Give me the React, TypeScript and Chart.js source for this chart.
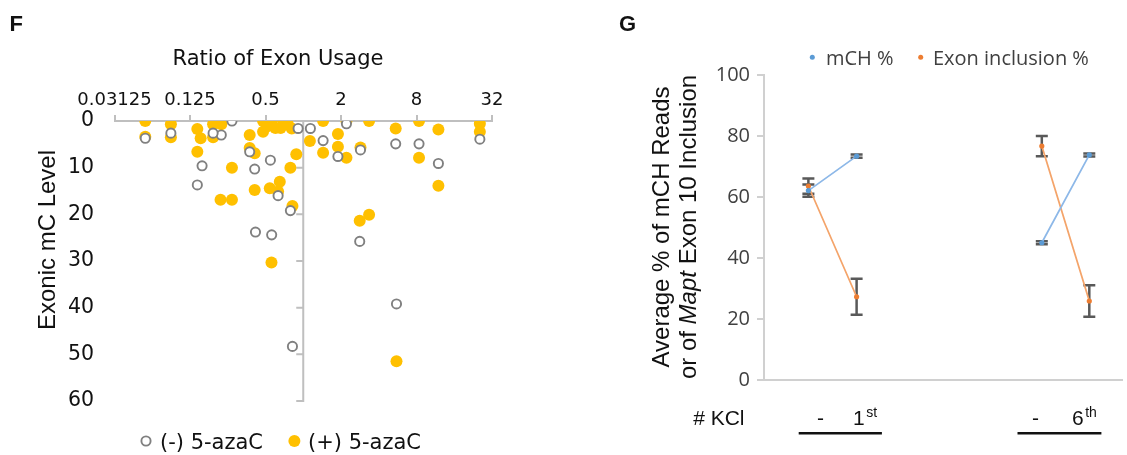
import React, { useEffect, useRef } from "react";
import { Chart, registerables } from "chart.js";

Chart.register(...registerables);

// ---------- Panel F data ----------
const ratioMinus = [0.055, 0.088, 0.27, 0.222, 0.191, 0.156, 0.143, 0.41, 0.547, 0.374, 0.63, 0.91, 1.14, 1.44, 2.21, 1.89, 2.86, 5.46, 8.38, 11.96, 25.6, 0.79, 0.416, 0.56, 0.82, 2.82, 5.54];
const mcMinus = [3.7, 2.6, 0, 3.0, 2.6, 9.6, 13.7, 10.3, 8.4, 6.6, 16.0, 1.6, 1.6, 4.2, 0.6, 7.6, 6.2, 4.9, 4.9, 9.1, 3.9, 19.2, 23.8, 24.4, 48.3, 25.8, 39.2];
const ratioPlus = [0.055, 0.055, 0.088, 0.088, 0.143, 0.152, 0.143, 0.191, 0.222, 0.191, 0.27, 0.374, 0.374, 0.41, 0.41, 0.478, 0.478, 0.558, 0.69, 0.52, 0.6, 0.66, 0.75, 0.541, 0.65, 0.63, 0.79, 0.88, 0.81, 1.44, 2.21, 3.35, 5.46, 8.38, 11.96, 25.6, 25.6, 1.13, 1.44, 1.89, 1.89, 2.21, 2.86, 8.38, 11.96, 0.219, 0.27, 0.82, 0.558, 3.35, 2.82, 5.54];
const mcPlus = [0, 3.4, 0.7, 3.5, 1.7, 3.7, 6.6, 0.7, 0.7, 3.5, 10.0, 3.0, 5.8, 6.9, 14.8, 0, 2.3, 0, 0, 1.1, 1.5, 1.5, 0.6, 14.4, 13.0, 15.1, 10.0, 7.1, 1.6, 0, 0, 0, 1.6, 0, 1.8, 0.6, 2.3, 4.3, 6.8, 2.8, 5.5, 7.9, 5.7, 7.9, 13.9, 16.9, 16.9, 18.2, 30.3, 20.1, 21.4, 51.5];
const ratioTicks = [0.03125, 0.125, 0.5, 2, 8, 32];
const ratioTickLabels = ["0.03125", "0.125", "0.5", "2", "8", "32"];
const mcTicks = [0, 10, 20, 30, 40, 50, 60];

// ---------- Panel G data ----------
const kclLabels = ["-", "1st", "-", "6th"];
const kclPositions = [1.86, 3.88, 11.64, 13.63];
const kclGroup = [0, 0, 1, 1];
const mchPercent = [62.1, 73.4, 45.0, 73.8];
const mchError = [2.0, 0.5, 0.5, 0.5];
const exonPercent = [63.6, 27.3, 76.7, 25.9];
const exonError = [2.5, 5.9, 3.3, 5.2];
const percentTicks = [0, 20, 40, 60, 80, 100];

const DEJAVU = "'DejaVu Sans', sans-serif";
const ARIAL = "'Liberation Sans', Arial, sans-serif";
const OPEN = "'Open Sans', sans-serif";

function PanelF() {
  const ref = useRef<HTMLCanvasElement>(null);
  useEffect(() => {
    const canvas = ref.current;
    if (!canvas) return;

    const crossAxis = {
      id: "crossAxis",
      beforeDatasetsDraw(chart: any) {
        const { ctx } = chart;
        const xs = chart.scales.x;
        const ys = chart.scales.y;
        const x = xs.getPixelForValue(1);
        ctx.save();
        ctx.strokeStyle = "#bfbfbf";
        ctx.lineWidth = 2;
        ctx.beginPath();
        ctx.moveTo(x, ys.top);
        ctx.lineTo(x, ys.bottom + 1);
        mcTicks.slice(1).forEach((t) => {
          const y = ys.getPixelForValue(t);
          ctx.moveTo(x - 7, y);
          ctx.lineTo(x, y);
        });
        ctx.stroke();
        ctx.restore();
      },
    };

    const texts = {
      id: "fTexts",
      afterDraw(chart: any) {
        const { ctx } = chart;
        ctx.save();
        ctx.fillStyle = "#111";
        ctx.font = `bold 22px ${ARIAL}`;
        ctx.textAlign = "left";
        ctx.textBaseline = "alphabetic";
        ctx.fillText("F", 9.5, 30.5);

        ctx.font = `21px ${DEJAVU}`;
        ctx.textAlign = "center";
        ctx.fillText("Ratio of Exon Usage", 278, 64.5);

        ctx.save();
        ctx.translate(55, 240);
        ctx.rotate(-Math.PI / 2);
        ctx.font = `24px ${ARIAL}`;
        ctx.textAlign = "center";
        ctx.fillText("Exonic mC Level", 0, 0);
        ctx.restore();

        // legend
        const ds = chart.data.datasets;
        ctx.font = `21px ${DEJAVU}`;
        ctx.textAlign = "left";
        ctx.beginPath();
        ctx.arc(146, 441, 4.6, 0, Math.PI * 2);
        ctx.fillStyle = "#fff";
        ctx.fill();
        ctx.lineWidth = 1.9;
        ctx.strokeStyle = "#808080";
        ctx.stroke();
        ctx.fillStyle = "#111";
        ctx.fillText(ds[0].label, 160, 449);
        ctx.beginPath();
        ctx.arc(294.4, 441, 6, 0, Math.PI * 2);
        ctx.fillStyle = "#FFC000";
        ctx.fill();
        ctx.fillStyle = "#111";
        ctx.fillText(ds[1].label, 308, 449);
        ctx.restore();
      },
    };

    const chart = new Chart(canvas, {
      type: "scatter",
      data: {
        datasets: [
          {
            label: "(-) 5-azaC",
            data: ratioMinus.map((r, i) => ({ x: r, y: mcMinus[i] })),
            pointRadius: 4.6,
            pointBorderWidth: 1.9,
            pointBorderColor: "#808080",
            pointBackgroundColor: "#ffffff",
            showLine: false,
          },
          {
            label: "(+) 5-azaC",
            data: ratioPlus.map((r, i) => ({ x: r, y: mcPlus[i] })),
            pointRadius: 6,
            pointBorderWidth: 0,
            pointBorderColor: "#FFC000",
            pointBackgroundColor: "#FFC000",
            showLine: false,
          },
        ],
      },
      options: {
        animation: false,
        responsive: false,
        layout: { padding: { left: 0, right: 63, top: 0, bottom: 54 } },
        plugins: { legend: { display: false }, tooltip: { enabled: false } },
        scales: {
          x: {
            type: "logarithmic",
            position: "top",
            min: ratioTicks[0],
            max: ratioTicks[ratioTicks.length - 1],
            afterBuildTicks: (s: any) => {
              s.ticks = ratioTicks.map((v) => ({ value: v }));
            },
            afterFit: (s: any) => {
              s.height = 121;
            },
            ticks: {
              callback: (_v: any, i: number) => ratioTickLabels[i],
              font: { family: DEJAVU, size: 18 },
              color: "#111",
              padding: 4,
              maxRotation: 0,
              autoSkip: false,
            },
            grid: { display: true, drawOnChartArea: false, drawTicks: true, tickLength: 6, color: "#bfbfbf", lineWidth: 2 },
            border: { display: true, color: "#bfbfbf", width: 2 },
          },
          y: {
            type: "linear",
            position: "left",
            reverse: true,
            min: 0,
            max: 60,
            afterBuildTicks: (s: any) => {
              s.ticks = mcTicks.map((v) => ({ value: v }));
            },
            afterFit: (s: any) => {
              s.width = 114.5;
            },
            ticks: { font: { family: DEJAVU, size: 20.5 }, color: "#111", padding: 20.5 },
            grid: { display: false, drawTicks: false },
            border: { display: false },
          },
        },
      } as any,
      plugins: [crossAxis, texts],
    });
    return () => chart.destroy();
  }, []);
  return (
    <canvas
      ref={ref}
      width={555}
      height={455}
      style={{ position: "absolute", left: 0, top: 0, width: 555, height: 455 }}
    />
  );
}

function buildSeries(values: number[]) {
  const pts: { x: number; y: number | null }[] = [];
  values.forEach((v, i) => {
    if (i > 0 && kclGroup[i] !== kclGroup[i - 1]) {
      pts.push({ x: (kclPositions[i - 1] + kclPositions[i]) / 2, y: null });
    }
    pts.push({ x: kclPositions[i], y: v });
  });
  return pts;
}

function PanelG() {
  const ref = useRef<HTMLCanvasElement>(null);
  useEffect(() => {
    const canvas = ref.current;
    if (!canvas) return;
    const OFF = 560;

    const errorBars = {
      id: "errorBars",
      beforeDatasetsDraw(chart: any) {
        const { ctx } = chart;
        const xs = chart.scales.x;
        const ys = chart.scales.y;
        const sets = [
          { vals: mchPercent, errs: mchError },
          { vals: exonPercent, errs: exonError },
        ];
        ctx.save();
        ctx.strokeStyle = "#595959";
        ctx.lineWidth = 2.5;
        sets.forEach(({ vals, errs }) => {
          vals.forEach((v, i) => {
            const px = xs.getPixelForValue(kclPositions[i]);
            const hi = ys.getPixelForValue(v + errs[i]);
            const lo = ys.getPixelForValue(v - errs[i]);
            ctx.beginPath();
            ctx.moveTo(px, hi);
            ctx.lineTo(px, lo);
            ctx.moveTo(px - 6, hi);
            ctx.lineTo(px + 6, hi);
            ctx.moveTo(px - 6, lo);
            ctx.lineTo(px + 6, lo);
            ctx.stroke();
          });
        });
        ctx.restore();
      },
    };

    const texts = {
      id: "gTexts",
      afterDraw(chart: any) {
        const { ctx } = chart;
        const ds = chart.data.datasets;
        ctx.save();
        ctx.fillStyle = "#111";
        ctx.textBaseline = "alphabetic";
        ctx.font = `bold 22px ${ARIAL}`;
        ctx.textAlign = "left";
        ctx.fillText("G", 619 - OFF, 30.5);

        // legend
        ctx.font = `20px ${OPEN}`;
        const items = [
          { x: 812.3, tx: 826, color: "#5B9BD5" },
          { x: 920.7, tx: 933, color: "#ED7D31" },
        ];
        items.forEach((it, i) => {
          ctx.beginPath();
          ctx.arc(it.x - OFF, 57.3, 2.5, 0, Math.PI * 2);
          ctx.fillStyle = it.color;
          ctx.fill();
          ctx.fillStyle = "#404040";
          ctx.fillText(ds[i].label, it.tx - OFF, 65);
        });

        // y-axis title, two rotated lines
        ctx.fillStyle = "#111";
        ctx.font = `24px ${ARIAL}`;
        ctx.save();
        ctx.translate(668.5 - OFF, 227);
        ctx.rotate(-Math.PI / 2);
        ctx.textAlign = "center";
        ctx.fillText("Average % of mCH Reads", 0, 0);
        ctx.restore();

        ctx.save();
        ctx.translate(695.6 - OFF, 227);
        ctx.rotate(-Math.PI / 2);
        ctx.textAlign = "left";
        const segs = [
          { t: "or of ", f: `24px ${ARIAL}` },
          { t: "Mapt", f: `italic 24px ${ARIAL}` },
          { t: " Exon 10 Inclusion", f: `24px ${ARIAL}` },
        ];
        let total = 0;
        segs.forEach((s) => {
          ctx.font = s.f;
          total += ctx.measureText(s.t).width;
        });
        let cx = -total / 2;
        segs.forEach((s) => {
          ctx.font = s.f;
          ctx.fillText(s.t, cx, 0);
          cx += ctx.measureText(s.t).width;
        });
        ctx.restore();

        // KCl row
        ctx.font = `21px ${ARIAL}`;
        ctx.textAlign = "right";
        ctx.fillText("# KCl", 744.5 - OFF, 425);
        ctx.textAlign = "center";
        ctx.fillText(kclLabels[0], 820.4 - OFF, 425);
        ctx.fillText(kclLabels[2], 1035.6 - OFF, 425);

        const drawOrdinal = (label: string, left: number) => {
          const main = label.slice(0, 1);
          const sup = label.slice(1);
          ctx.textAlign = "left";
          ctx.font = `21px ${ARIAL}`;
          ctx.fillText(main, left - OFF, 425);
          const w = ctx.measureText(main).width;
          ctx.font = `14px ${ARIAL}`;
          ctx.fillText(sup, left - OFF + w + 1.5, 417);
        };
        drawOrdinal(kclLabels[1], 853);
        drawOrdinal(kclLabels[3], 1072);

        ctx.strokeStyle = "#111";
        ctx.lineWidth = 2.5;
        ctx.beginPath();
        ctx.moveTo(798.7 - OFF, 433.3);
        ctx.lineTo(881.9 - OFF, 433.3);
        ctx.moveTo(1017.5 - OFF, 433.3);
        ctx.lineTo(1101.4 - OFF, 433.3);
        ctx.stroke();
        ctx.restore();
      },
    };

    const chart = new Chart(canvas, {
      type: "line",
      data: {
        datasets: [
          {
            label: "mCH %",
            data: buildSeries(mchPercent),
            borderColor: "#8DB8E8",
            borderWidth: 1.75,
            pointRadius: 2.6,
            pointBorderWidth: 0,
            pointBackgroundColor: "#5B9BD5",
            spanGaps: false,
          },
          {
            label: "Exon inclusion %",
            data: buildSeries(exonPercent),
            borderColor: "#F4A46A",
            borderWidth: 1.75,
            pointRadius: 2.6,
            pointBorderWidth: 0,
            pointBackgroundColor: "#ED7D31",
            spanGaps: false,
          },
        ],
      },
      options: {
        animation: false,
        responsive: false,
        layout: { padding: { left: 0, right: 5, top: 75, bottom: 0 } },
        plugins: { legend: { display: false }, tooltip: { enabled: false } },
        scales: {
          x: {
            type: "linear",
            min: 0,
            max: 15,
            ticks: { display: false },
            grid: { display: false, drawTicks: false },
            border: { display: true, color: "#d0d0d0", width: 2 },
            afterFit: (s: any) => {
              s.height = 75;
            },
          },
          y: {
            type: "linear",
            min: 0,
            max: 100,
            afterBuildTicks: (s: any) => {
              s.ticks = percentTicks.map((v) => ({ value: v }));
            },
            afterFit: (s: any) => {
              s.width = 204;
            },
            ticks: { font: { family: OPEN, size: 20 }, color: "#404040", padding: 7 },
            grid: { display: true, drawOnChartArea: false, drawTicks: true, tickLength: 7, color: "#d0d0d0", lineWidth: 2 },
            border: { display: true, color: "#d0d0d0", width: 2 },
          },
        },
      } as any,
      plugins: [errorBars, texts],
    });
    return () => chart.destroy();
  }, []);
  return (
    <canvas
      ref={ref}
      width={567}
      height={455}
      style={{ position: "absolute", left: 560, top: 0, width: 567, height: 455 }}
    />
  );
}

export default function App() {
  return (
    <div
      style={{
        position: "fixed",
        left: 0,
        top: 0,
        width: 1127,
        height: 455,
        background: "#ffffff",
        overflow: "hidden",
      }}
    >
      <PanelF />
      <PanelG />
    </div>
  );
}
